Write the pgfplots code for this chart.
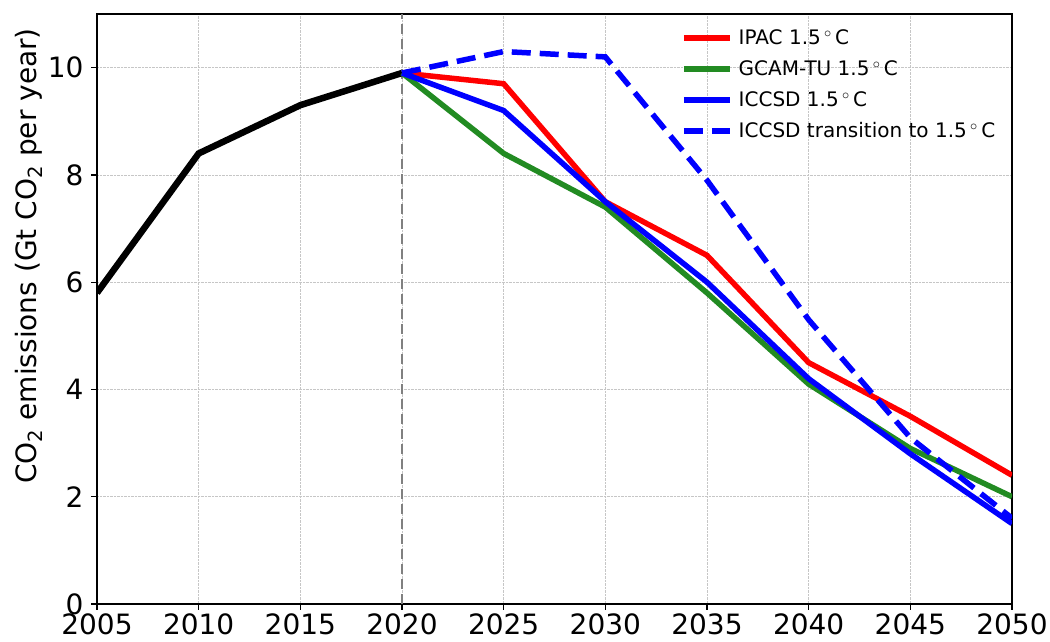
\documentclass[border=0pt]{standalone}
\usepackage{pgfplots}
\pgfplotsset{compat=1.18}
\usepackage{fontspec}
\setmainfont{DejaVu Sans}
\definecolor{mplgreen}{RGB}{34,139,34}
\begin{document}
\begin{tikzpicture}
\useasboundingbox (-97pt,-38pt) rectangle (953pt,604pt);
\clip (-97pt,-38pt) rectangle (953pt,604pt);
\begin{axis}[
  scale only axis,
  width=915pt, height=590pt,
  xmin=2005, xmax=2050, ymin=0, ymax=11,
  xtick={2005,2010,...,2050},
  ytick={0,2,...,10},
  /pgf/number format/assume math mode=true,
  xticklabel style={/pgf/number format/1000 sep={}, font=\fontsize{28}{32}\selectfont},
  yticklabel style={font=\fontsize{28}{32}\selectfont, xshift=-4pt},
  tick align=outside,
  major tick length=6pt,
  tick style={black, line width=1.2pt},
  xtick pos=bottom, ytick pos=left,
  axis line style={line width=1.2pt},
  grid=major,
  grid style={densely dotted, gray!45, line width=0.8pt},
  ylabel={CO\textsubscript{2} emissions (Gt CO\textsubscript{2} per year)},
  ylabel style={font=\fontsize{28}{32}\selectfont, yshift=-2pt, xshift=53pt},
  legend style={draw=none, fill=none, at={(0.635,0.98)}, anchor=north west,
    font=\fontsize{20}{24}\selectfont, row sep=10.5pt, legend cell align=left,
    nodes={inner xsep=6pt}},
  legend image code/.code={\draw[#1] (0pt,0pt) -- (46pt,0pt);},
]
\addplot[gray, line width=2pt, dash pattern=on 10pt off 5pt, forget plot] coordinates {(2020,0) (2020,11)};
\addplot[black, line width=6.5pt, forget plot] coordinates {(2005,5.8) (2010,8.4) (2015,9.3) (2020,9.9)};
\addplot[red, line width=5.5pt] coordinates {(2020,9.9) (2025,9.7) (2030,7.5) (2035,6.5) (2040,4.5) (2045,3.5) (2050,2.4)};
\addlegendentry{IPAC 1.5\,$^\circ$\,C}
\addplot[mplgreen, line width=5.5pt] coordinates {(2020,9.9) (2025,8.4) (2030,7.4) (2035,5.8) (2040,4.1) (2045,2.9) (2050,2.0)};
\addlegendentry{GCAM-TU 1.5\,$^\circ$\,C}
\addplot[blue, line width=5.5pt] coordinates {(2020,9.9) (2025,9.2) (2030,7.5) (2035,6.0) (2040,4.2) (2045,2.8) (2050,1.5)};
\addlegendentry{ICCSD 1.5\,$^\circ$\,C}
\addplot[blue, line width=5.5pt, dash pattern=on 19pt off 9pt] coordinates {(2020,9.9) (2025,10.3) (2030,10.2) (2035,7.9) (2040,5.3) (2045,3.1) (2050,1.6)};
\addlegendentry{ICCSD transition to 1.5\,$^\circ$\,C}
\end{axis}
\end{tikzpicture}
\end{document}
